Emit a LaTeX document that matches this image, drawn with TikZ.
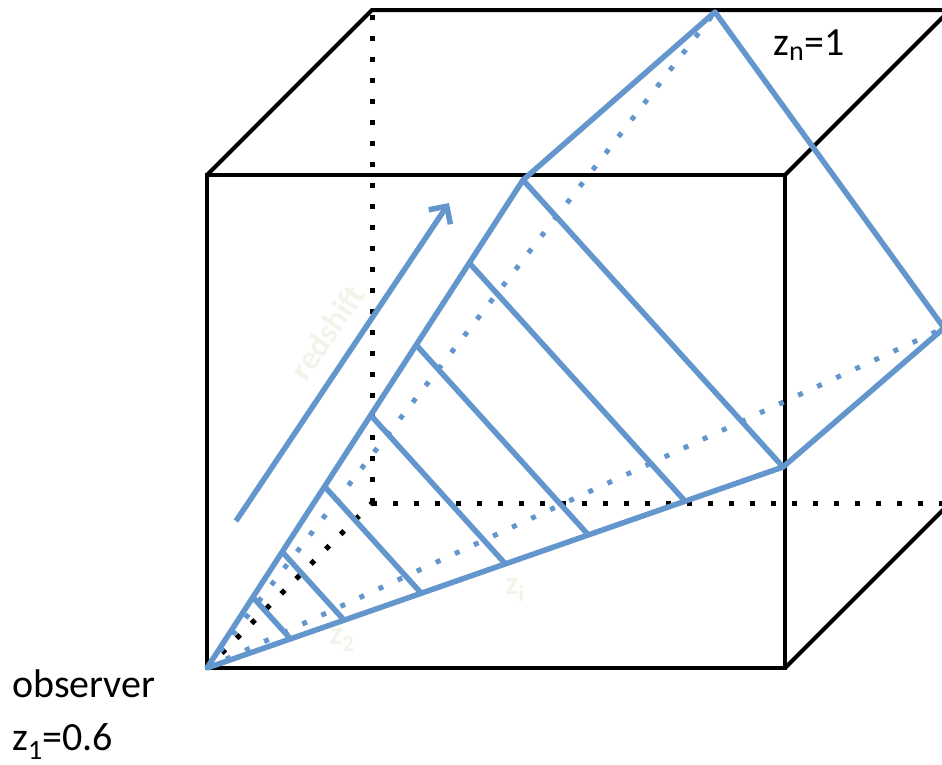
\documentclass[tikz,border=0pt]{standalone}
\usepackage{fontspec}
\setmainfont{Carlito}
\usetikzlibrary{arrows.meta,calc}
\definecolor{coneblue}{RGB}{99,150,204}
\definecolor{faint}{RGB}{243,243,234}

\begin{document}
\begin{tikzpicture}[x=1pt,y=-1pt,
    >={Straight Barb[length=13pt,width=26pt]},
    edge/.style={draw=black,line width=4pt},
    hidden/.style={draw=black,line width=5pt,dash pattern=on 5pt off 16pt},
    cone/.style={draw=coneblue,line width=5.5pt,line join=round},
    conehidden/.style={draw=coneblue,line width=5pt,dash pattern=on 5pt off 16pt},
    lbl/.style={inner sep=0pt,anchor=base west,font=\fontsize{40}{42}\selectfont},
    ghost/.style={text=faint,inner sep=0pt,font=\bfseries\fontsize{33}{35}\selectfont}
  ]
  \useasboundingbox (0,0) rectangle (942,764);
  \clip (0,0) rectangle (942,764);
  \coordinate (fbl) at (207,668);
  \coordinate (ftl) at (207,175);
  \coordinate (ftr) at (785,175);
  \coordinate (fbr) at (785,668);
  \coordinate (btl) at (372,10);
  \coordinate (btr) at (950,10);
  \coordinate (bbr) at (950,503);
  \coordinate (bbl) at (372,503);
  \draw[hidden] (fbl) -- (bbl);
  \draw[hidden] (bbl) -- (btl);
  \draw[hidden] (bbl) -- (bbr);
  \draw[edge] (fbl) rectangle (ftr);
  \draw[edge] (ftl) -- (btl) -- (btr);
  \draw[edge] (ftr) -- (btr) -- (bbr) -- (fbr);
  \node[ghost,rotate=56] (rsft) at (327,332) {redshift};
  \node[ghost] (zi) at (515,590) {z\textsubscript{i}};
  \node[ghost] (ztwo) at (342,640) {z\textsubscript{2}};
  \coordinate (A) at (fbl);
  \coordinate (P) at (523,180);
  \coordinate (R) at (715,12);
  \coordinate (S) at (944,328);
  \coordinate (Q) at (783,467);
  \draw[conehidden] (A) -- (R);
  \draw[conehidden] (A) -- (S);
  \draw[cone] (A) -- (P) -- (R) -- (S) -- (Q) -- cycle;
  \draw[cone] (P) -- (Q);
  \foreach \t in {0.145,0.238,0.372,0.518,0.662,0.83}
    \draw[cone] ($(A)!\t!(P)$) -- ($(A)!\t!(Q)$);
  \coordinate (rs0) at (236,521);
  \coordinate (rs1) at (449,203);
  \draw[cone,->] (rs0) -- (rs1);
  \node[lbl] (obs) at (12,697) {observer};
  \node[lbl] (zfirst) at (12,750) {z\textsubscript{1}=0.6};
  \node[lbl] (zlast) at (773,55) {z\textsubscript{n}=1};
\end{tikzpicture}
\end{document}
